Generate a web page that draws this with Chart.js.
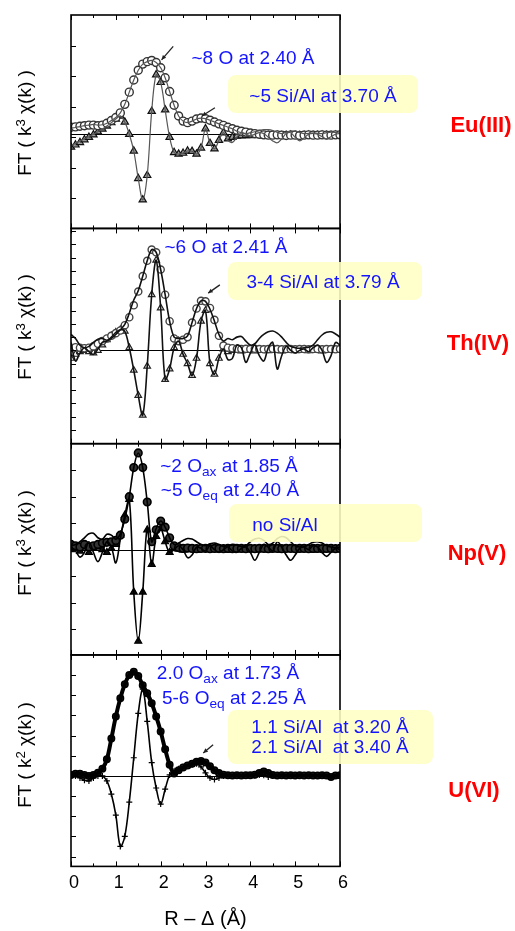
<!DOCTYPE html>
<html>
<head>
<meta charset="utf-8">
<script src="https://cdn.jsdelivr.net/npm/chart.js@4.4.1/dist/chart.umd.min.js"></script>
<style>
  html, body { margin: 0; padding: 0; background: #fff; }
  #wrap { position: relative; width: 515px; height: 931px; font-family: Arial, "Liberation Sans", sans-serif; }
  #wrap canvas { position: absolute; left: 0; top: 0; }
  .ytitle { position: absolute; transform: translate(-50%, -50%) rotate(-90deg); font-size: 19px; white-space: nowrap; color: #000; line-height: 1; }
  .ion { position: absolute; transform: translate(-50%, -50%); font-size: 22px; font-weight: bold; color: #f00; white-space: nowrap; line-height: 1; }
  .note { position: absolute; transform: translate(-50%, -50%); font-size: 19px; color: #1414ff; white-space: nowrap; line-height: 1; }
  .box { position: absolute; background: rgba(255, 255, 196, 0.88); border-radius: 8px; }
  sub { font-size: 0.72em; vertical-align: -0.3em; line-height: 0; }
  sup { font-size: 0.7em; vertical-align: 0.45em; line-height: 0; }
</style>
</head>
<body>
<div id="wrap">
  <canvas id="ft-chart" width="515" height="931"></canvas>

  <div class="ytitle" style="left:24px; top:123px;">FT ( k<sup>3</sup> χ(k) )</div>
  <div class="ytitle" style="left:24px; top:327px;">FT ( k<sup>3</sup> χ(k) )</div>
  <div class="ytitle" style="left:24px; top:543px;">FT ( k<sup>3</sup> χ(k) )</div>
  <div class="ytitle" style="left:24px; top:755px;">FT ( k<sup>2</sup> χ(k) )</div>

  <div class="ion" style="left:481px; top:125px;">Eu(III)</div>
  <div class="ion" style="left:478px; top:343px;">Th(IV)</div>
  <div class="ion" style="left:477px; top:553px;">Np(V)</div>
  <div class="ion" style="left:474px; top:790px;">U(VI)</div>

  <div class="box" style="left:228px; top:75px; width:190px; height:38px;"></div>
  <div class="box" style="left:228px; top:262px; width:194px; height:38px;"></div>
  <div class="box" style="left:229px; top:504px; width:193px; height:38px;"></div>
  <div class="box" style="left:228px; top:710px; width:205px; height:54px;"></div>

  <div class="note" style="left:253px; top:57px;">~8 O at 2.40 Å</div>
  <div class="note" style="left:323px; top:95px;">~5 Si/Al at 3.70 Å</div>
  <div class="note" style="left:226px; top:246px;">~6 O at 2.41 Å</div>
  <div class="note" style="left:323px; top:281px;">3-4 Si/Al at 3.79 Å</div>
  <div class="note" style="left:229px; top:465px;">~2 O<sub>ax</sub> at 1.85 Å</div>
  <div class="note" style="left:230px; top:489px;">~5 O<sub>eq</sub> at 2.40 Å</div>
  <div class="note" style="left:285px; top:524px;">no Si/Al</div>
  <div class="note" style="left:228px; top:672px;">2.0 O<sub>ax</sub> at 1.73 Å</div>
  <div class="note" style="left:234px; top:697px;">5-6 O<sub>eq</sub> at 2.25 Å</div>
  <div class="note" style="left:330px; top:726px;">1.1 Si/Al&nbsp; at 3.20 Å</div>
  <div class="note" style="left:330px; top:746px;">2.1 Si/Al&nbsp; at 3.40 Å</div>
</div>

<script>
// R - delta grid (Å)
const rValues = [
  0.0, 0.1, 0.2, 0.3, 0.4, 0.5, 0.6, 0.7, 0.8, 0.9,
  1.0, 1.1, 1.2, 1.3, 1.4, 1.5, 1.6, 1.7, 1.8, 1.9,
  2.0, 2.1, 2.2, 2.3, 2.4, 2.5, 2.6, 2.7, 2.8, 2.9,
  3.0, 3.1, 3.2, 3.3, 3.4, 3.5, 3.6, 3.7, 3.8, 3.9,
  4.0, 4.1, 4.2, 4.3, 4.4, 4.5, 4.6, 4.7, 4.8, 4.9,
  5.0, 5.1, 5.2, 5.3, 5.4, 5.5, 5.6, 5.7, 5.8, 5.9,
  6.0
];
const xTickLabels = [0, 1, 2, 3, 4, 5, 6];

// Eu(III)
const euMag = [
  0.23, 0.24, 0.26, 0.28, 0.30, 0.30, 0.28, 0.30, 0.36, 0.45,
  0.55, 0.70, 0.98, 1.38, 1.78, 2.10, 2.30, 2.38, 2.42, 2.35,
  2.18, 1.85, 1.40, 0.95, 0.60, 0.43, 0.38, 0.43, 0.50, 0.53,
  0.51, 0.46, 0.40, 0.34, 0.29, 0.23, 0.18, 0.13, 0.10, 0.07,
  0.04, 0.02, 0.00, -0.02, -0.03, -0.03, -0.02, -0.03, -0.04, -0.03,
  -0.03, -0.04, -0.03, -0.02, -0.03, -0.03, -0.02, -0.03, -0.03, -0.02,
  -0.02
];
const euMagFit = [
  0.20, 0.22, 0.25, 0.28, 0.30, 0.32, 0.30, 0.31, 0.36, 0.45,
  0.55, 0.70, 0.98, 1.38, 1.78, 2.10, 2.30, 2.38, 2.42, 2.35,
  2.18, 1.85, 1.40, 0.95, 0.60, 0.43, 0.38, 0.43, 0.50, 0.53,
  0.51, 0.46, 0.40, 0.34, 0.29, 0.23, 0.18, 0.10, 0.05, 0.02,
  0.05, 0.08, 0.12, 0.15, 0.15, 0.12, 0.06, 0.02, 0.06, 0.10,
  0.10, 0.06, 0.02, 0.03, 0.04, 0.03, 0.02, 0.05, 0.07, 0.06,
  0.04
];
const euIm = [
  -0.42, -0.35, -0.27, -0.18, -0.10, -0.02, 0.08, 0.17, 0.27, 0.38,
  0.50, 0.60, 0.40, 0.00, -0.55, -1.45, -2.15, -1.35, 0.75, 1.95,
  1.70, 0.80, -0.10, -0.60, -0.65, -0.62, -0.55, -0.56, -0.65, -0.45,
  0.18, -0.30, -0.48, -0.20, 0.05, -0.15, -0.10, -0.06, -0.05, -0.04,
  -0.04, -0.03, -0.04, -0.05, -0.04, -0.03, -0.04, -0.05, -0.04, -0.03,
  -0.04, -0.05, -0.04, -0.03, -0.04, -0.04, -0.03, -0.04, -0.04, -0.03,
  -0.03
];
const euImFit = [
  -0.38, -0.30, -0.22, -0.15, -0.08, 0.00, 0.08, 0.17, 0.27, 0.38,
  0.50, 0.60, 0.40, 0.00, -0.55, -1.45, -2.15, -1.35, 0.75, 1.95,
  1.70, 0.80, -0.10, -0.60, -0.65, -0.62, -0.55, -0.56, -0.65, -0.45,
  0.18, -0.30, -0.48, -0.20, 0.05, -0.20, -0.27, -0.10, 0.05, 0.00,
  -0.05, 0.00, 0.05, 0.02, -0.10, -0.22, -0.28, -0.15, 0.02, 0.05,
  -0.10, -0.22, -0.12, 0.00, 0.03, 0.00, -0.08, -0.15, -0.08, 0.00,
  0.02
];

// Th(IV)
const thMag = [
  0.10, 0.12, 0.10, 0.08, 0.10, 0.15, 0.25, 0.35, 0.45, 0.55,
  0.65, 0.75, 0.95, 1.25, 1.70, 2.22, 2.80, 3.38, 3.80, 3.70,
  3.05, 2.10, 1.10, 0.45, 0.35, 0.40, 0.50, 1.05, 1.58, 1.87,
  1.85, 1.60, 1.15, 0.55, 0.18, 0.10, 0.08, 0.06, 0.05, 0.06,
  0.05, 0.06, 0.05, 0.04, 0.05, 0.06, 0.05, 0.04, 0.05, 0.05,
  0.04, 0.05, 0.05, 0.04, 0.05, 0.05, 0.04, 0.05, 0.05, 0.04,
  0.05
];
const thMagFit = [
  0.60, 0.45, 0.20, 0.10, 0.15, 0.30, 0.42, 0.45, 0.38, 0.45,
  0.60, 0.78, 0.98, 1.40, 1.90, 2.25, 2.80, 3.38, 3.80, 3.70,
  3.05, 2.10, 1.10, 0.50, 0.45, 0.45, 0.55, 1.05, 1.58, 1.87,
  1.85, 1.55, 1.10, 0.60, 0.35, 0.45, 0.40, 0.50, 0.52, 0.35,
  0.20, 0.25, 0.45, 0.60, 0.70, 0.73, 0.65, 0.50, 0.30, 0.15,
  0.10, 0.08, 0.10, 0.12, 0.20, 0.40, 0.58, 0.68, 0.70, 0.62,
  0.50
];
const thIm = [
  -0.30, -0.15, -0.05, 0.00, -0.05, -0.10, 0.00, 0.20, 0.40, 0.55,
  0.68, 0.78, 0.72, 0.10, -0.75, -1.70, -2.45, -0.60, 2.10, 3.40,
  1.60, -1.10, -0.70, 0.10, 0.35, -0.15, -0.50, -0.95, -0.30, 1.10,
  1.50, -0.50, -0.90, -0.30, 0.05, -0.05, 0.00, 0.03, -0.02, 0.00,
  0.02, -0.02, 0.00, 0.02, -0.01, 0.00, 0.02, -0.02, 0.00, 0.01,
  -0.01, 0.00, 0.02, -0.01, 0.00, 0.01, -0.02, 0.00, 0.01, 0.00,
  0.00
];
const thImFit = [
  0.30, -0.40, -0.10, 0.10, -0.05, -0.15, 0.05, 0.30, 0.35, 0.50,
  0.68, 0.78, 0.72, 0.10, -0.75, -1.70, -2.45, -0.60, 2.10, 3.40,
  1.60, -1.10, -0.70, 0.10, 0.35, -0.15, -0.50, -0.95, -0.30, 1.10,
  1.50, -0.50, -0.90, -0.30, 0.05, -0.35, -0.30, 0.20, 0.10, -0.45,
  -0.10, 0.20, -0.20, -0.40, 0.10, 0.30, -0.70, -0.20, 0.15, 0.00,
  -0.10, 0.00, 0.05, -0.05, 0.10, 0.20, 0.00, -0.45, -0.20, 0.30,
  0.20
];

// Np(V)
const npMag = [
  0.20, 0.15, 0.10, 0.20, 0.10, 0.15, 0.20, 0.25, 0.28, 0.30,
  0.35, 0.55, 1.15, 2.00, 3.10, 3.65, 3.10, 1.80, 0.30, 0.75,
  1.08, 0.85, 0.45, 0.15, 0.08, 0.05, 0.06, 0.05, 0.04, 0.05,
  0.05, 0.04, 0.05, 0.05, 0.04, 0.05, 0.04, 0.05, 0.05, 0.04,
  0.05, 0.04, 0.05, 0.05, 0.04, 0.05, 0.05, 0.04, 0.05, 0.05,
  0.04, 0.05, 0.05, 0.04, 0.05, 0.05, 0.04, 0.05, 0.05, 0.04,
  0.05
];
const npMagFit = [
  0.15, 0.20, 0.30, 0.45, 0.60, 0.62, 0.45, 0.40, 0.58, 0.55,
  0.40, 0.60, 1.15, 2.00, 3.10, 3.65, 3.10, 1.80, 0.30, 0.80,
  1.08, 0.85, 0.45, 0.20, 0.25, 0.35, 0.42, 0.40, 0.30, 0.20,
  0.15, 0.22, 0.25, 0.20, 0.12, 0.15, 0.20, 0.18, 0.12, 0.15,
  0.30, 0.40, 0.43, 0.35, 0.20, 0.25, 0.42, 0.50, 0.45, 0.30,
  0.15, 0.10, 0.12, 0.20, 0.28, 0.30, 0.25, 0.15, 0.10, 0.08,
  0.10
];
const npIm = [
  0.00, 0.10, -0.05, 0.10, -0.10, 0.05, 0.10, 0.00, -0.10, 0.05,
  0.20, 0.55, 1.30, 1.90, -1.60, -3.45, -1.60, 0.75, -0.55, 0.50,
  0.80, 0.30, -0.10, 0.05, 0.02, -0.02, 0.03, 0.00, -0.02, 0.02,
  0.00, 0.02, -0.01, 0.00, 0.02, -0.02, 0.00, 0.01, -0.01, 0.00,
  0.01, -0.01, 0.00, 0.02, -0.01, 0.00, 0.01, -0.02, 0.00, 0.01,
  0.00, -0.01, 0.01, 0.00, -0.02, 0.01, 0.00, -0.01, 0.01, 0.00,
  0.00
];
const npImFit = [
  0.10, -0.05, -0.28, -0.10, 0.30, -0.10, -0.45, -0.10, 0.30, 0.10,
  -0.50, 0.40, 1.30, 1.90, -1.60, -3.45, -1.60, 0.80, -0.55, 0.50,
  0.80, 0.30, -0.10, 0.00, 0.15, 0.00, -0.30, -0.20, 0.10, 0.05,
  -0.05, 0.15, 0.00, -0.10, 0.00, 0.10, -0.05, -0.10, 0.05, 0.10,
  -0.10, -0.40, -0.10, 0.20, 0.10, -0.05, 0.30, 0.10, -0.20, -0.40,
  -0.20, 0.05, 0.10, 0.00, 0.15, 0.10, -0.10, -0.25, -0.10, 0.05,
  0.00
];

// U(VI)
const uMag = [
  0.05, 0.10, 0.10, 0.05, 0.00, 0.05, 0.15, 0.35, 0.82, 1.85,
  2.95, 3.85, 4.55, 5.00, 5.17, 4.95, 4.50, 4.10, 3.60, 2.95,
  2.20, 1.32, 0.55, 0.12, 0.28, 0.42, 0.52, 0.60, 0.70, 0.74,
  0.66, 0.48, 0.28, 0.14, 0.06, 0.03, 0.02, 0.03, 0.02, 0.03,
  0.03, 0.06, 0.14, 0.22, 0.14, 0.04, 0.02, 0.03, 0.02, 0.03,
  0.02, 0.03, 0.02, 0.03, 0.02, 0.02, 0.03, 0.02, -0.05, 0.02,
  0.03
];
const uIm = [
  0.05, 0.00, -0.10, -0.22, -0.25, -0.10, 0.00, 0.00, -0.25, -0.90,
  -1.95, -3.50, -3.00, -1.30, 0.90, 3.10, 4.30, 2.70, 0.66, -0.60,
  -1.40, -0.66, 0.05, 0.25, 0.35, 0.45, 0.50, 0.55, 0.60, 0.45,
  0.15, -0.10, -0.18, -0.10, 0.00, 0.02, 0.00, 0.01, 0.00, 0.01,
  0.00, 0.02, 0.05, 0.03, -0.05, 0.00, 0.01, 0.00, 0.01, 0.00,
  0.01, 0.00, 0.01, 0.00, 0.01, 0.00, 0.01, 0.00, -0.05, 0.00,
  0.00
];

// inner tick marks on the left frame of each panel (in panel units)
const euTicks = [-2.1, -1.1, -0.1, 0.9, 1.9, 2.9];
const thTicks = [-3.5, -3, -2.5, -2, -1.5, -1, -0.5, 0, 0.5, 1, 1.5, 2, 2.5, 3, 3.5, 4, 4.5];
const npTicks = [-3, -2, -1, 0, 1, 2, 3];
const uTicks = [-4, -3, -2, -1, 0, 1, 2, 3, 4, 5];

const panels = [
  { id: 'yEu', min: -3.09, max: 3.91, weight: 215, ticks: euTicks,
    mag: euMag, magFit: euMagFit, im: euIm, imFit: euImFit,
    magStyle: { r: 4, bg: '#ffffff', bc: '#333', bw: 1.4 },
    imStyle: { r: 4.2, bg: '#9a9a9a', bc: '#111', bw: 1.2 },
    fitColor: '#555', fitWidth: 1.2 },
  { id: 'yTh', min: -3.52, max: 4.6, weight: 216.8, ticks: thTicks,
    mag: thMag, magFit: thMagFit, im: thIm, imFit: thImFit,
    magStyle: { r: 3.6, bg: '#ffffff', bc: '#444', bw: 1.4 },
    imStyle: { r: 3.8, bg: '#ffffff', bc: '#222', bw: 1.2 },
    fitColor: '#111', fitWidth: 1.6 },
  { id: 'yNp', min: -3.97, max: 4.0, weight: 212.8, ticks: npTicks,
    mag: npMag, magFit: npMagFit, im: npIm, imFit: npImFit,
    magStyle: { r: 3.8, bg: '#333', bc: '#000', bw: 1.6 },
    imStyle: { r: 4, bg: '#111', bc: '#000', bw: 1.2 },
    fitColor: '#000', fitWidth: 1.6 },
  { id: 'yU', min: -4.49, max: 6.0, weight: 213, ticks: uTicks,
    mag: uMag, magFit: uMag, im: uIm, imFit: uIm,
    magStyle: { r: 3.2, bg: '#222', bc: '#000', bw: 1.6 },
    imStyle: { r: 3, bg: '#000', bc: '#000', bw: 1.2 },
    fitColor: '#000', fitWidth: 1.6, magFitWidth: 4, imPoint: 'cross' }
];

// arrows: panel axis, tail (r, v) -> tip (r, v)
const arrows = [
  { id: 'yEu', from: [2.28, 2.88], to: [2.02, 2.44] },
  { id: 'yEu', from: [3.21, 0.87], to: [2.92, 0.60] },
  { id: 'yTh', from: [3.32, 2.47], to: [3.06, 2.16] },
  { id: 'yU', from: [3.17, 1.55], to: [2.95, 1.14] }
];

function pts(arr) {
  return rValues.map((r, i) => ({ x: r, y: arr[i] }));
}

const datasets = [];
panels.forEach((p) => {
  datasets.push({
    data: pts(p.magFit), yAxisID: p.id, showLine: true, pointRadius: 0,
    borderColor: p.fitColor, borderWidth: p.magFitWidth || p.fitWidth, tension: 0.35, order: 1
  });
  datasets.push({
    data: pts(p.imFit), yAxisID: p.id, showLine: true, pointRadius: 0,
    borderColor: p.fitColor, borderWidth: p.fitWidth, tension: 0.35, order: 1
  });
  datasets.push({
    data: pts(p.mag), yAxisID: p.id, showLine: false, pointStyle: 'circle',
    pointRadius: p.magStyle.r, pointBackgroundColor: p.magStyle.bg,
    pointBorderColor: p.magStyle.bc, pointBorderWidth: p.magStyle.bw, order: 2
  });
  datasets.push({
    data: pts(p.im), yAxisID: p.id, showLine: false, pointStyle: p.imPoint || 'triangle',
    pointRadius: p.imStyle.r, pointBackgroundColor: p.imStyle.bg,
    pointBorderColor: p.imStyle.bc, pointBorderWidth: p.imStyle.bw, order: 2
  });
});

const scales = {
  x: {
    type: 'linear', min: 0, max: 6, position: 'bottom',
    grid: { display: false, drawTicks: false },
    border: { display: false },
    afterBuildTicks: (axis) => { axis.ticks = xTickLabels.map((v) => ({ value: v })); },
    ticks: { padding: 6, labelOffset: 3, color: '#000', font: { size: 18 } },
    title: { display: true, text: 'R – Δ (Å)', color: '#000', font: { size: 20 }, padding: { top: 7, bottom: 0 } }
  }
};
panels.forEach((p, i) => {
  scales[p.id] = {
    type: 'linear', display: false, position: 'left', stack: 'ft',
    stackWeight: p.weight, weight: panels.length - i, min: p.min, max: p.max
  };
});

const framePlugin = {
  id: 'frames',
  beforeDatasetsDraw(chart) {
    const { ctx, chartArea: a } = chart;
    ctx.save();
    ctx.strokeStyle = '#000';
    ctx.lineWidth = 1;
    panels.forEach((p) => {
      const y0 = Math.round(chart.scales[p.id].getPixelForValue(0)) + 0.5;
      ctx.beginPath();
      ctx.moveTo(a.left, y0);
      ctx.lineTo(a.right, y0);
      ctx.stroke();
    });
    ctx.restore();
  },
  afterDatasetsDraw(chart) {
    const { ctx, chartArea: a } = chart;
    const xs = chart.scales.x;
    ctx.save();
    ctx.strokeStyle = '#000';
    panels.forEach((p) => {
      const s = chart.scales[p.id];
      ctx.lineWidth = 1.6;
      ctx.strokeRect(a.left, s.top, a.right - a.left, s.bottom - s.top);
      ctx.lineWidth = 1;
      p.ticks.forEach((v) => {
        const y = Math.round(s.getPixelForValue(v)) + 0.5;
        ctx.beginPath();
        ctx.moveTo(a.left, y);
        ctx.lineTo(a.left + 5, y);
        ctx.stroke();
      });
      for (let k = 0; k <= 12; k++) {
        const x = Math.round(xs.getPixelForValue(k / 2)) + 0.5;
        const len = k % 2 === 0 ? 5 : 3;
        ctx.beginPath();
        ctx.moveTo(x, s.top);
        ctx.lineTo(x, s.top + len);
        ctx.moveTo(x, s.bottom);
        ctx.lineTo(x, s.bottom - len);
        ctx.stroke();
      }
    });
    ctx.lineWidth = 1.3;
    ctx.fillStyle = '#222';
    ctx.strokeStyle = '#222';
    arrows.forEach((ar) => {
      const s = chart.scales[ar.id];
      const x0 = xs.getPixelForValue(ar.from[0]), y0 = s.getPixelForValue(ar.from[1]);
      const x1 = xs.getPixelForValue(ar.to[0]), y1 = s.getPixelForValue(ar.to[1]);
      const ang = Math.atan2(y1 - y0, x1 - x0);
      ctx.beginPath();
      ctx.moveTo(x0, y0);
      ctx.lineTo(x1, y1);
      ctx.stroke();
      ctx.beginPath();
      ctx.moveTo(x1, y1);
      ctx.lineTo(x1 - 5 * Math.cos(ang - 0.45), y1 - 5 * Math.sin(ang - 0.45));
      ctx.lineTo(x1 - 5 * Math.cos(ang + 0.45), y1 - 5 * Math.sin(ang + 0.45));
      ctx.closePath();
      ctx.fill();
    });
    ctx.restore();
  }
};

Chart.defaults.font.family = 'Arial, "Liberation Sans", sans-serif';

const ctx = document.getElementById('ft-chart').getContext('2d');
window.ftChart = new Chart(ctx, {
  type: 'line',
  data: { datasets: datasets },
  options: {
    responsive: false,
    animation: false,
    layout: { padding: { left: 71, right: 175, top: 15, bottom: 0 } },
    plugins: { legend: { display: false }, tooltip: { enabled: false } },
    scales: scales
  },
  plugins: [framePlugin]
});
</script>
</body>
</html>
